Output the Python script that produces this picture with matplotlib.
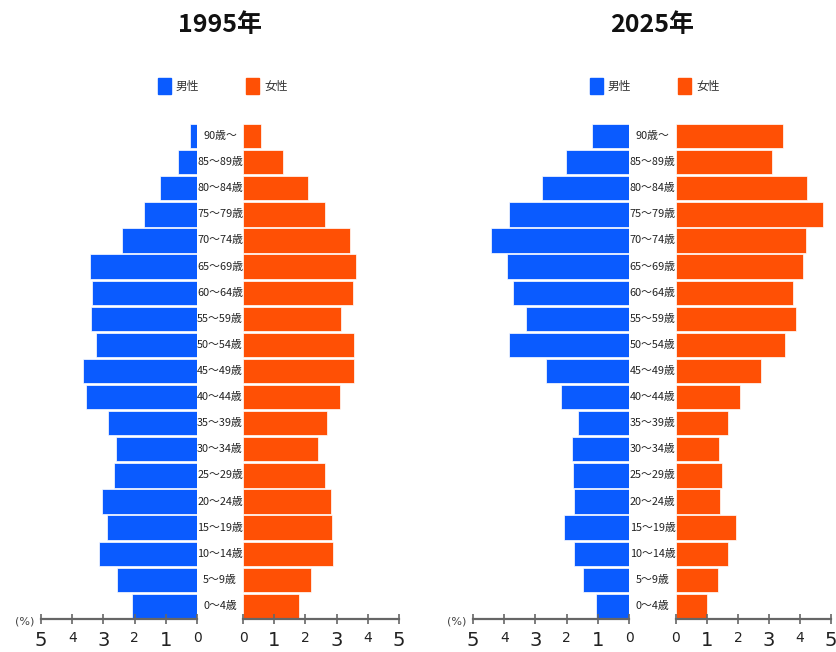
import matplotlib
matplotlib.use('Agg')
import matplotlib.pyplot as plt
from matplotlib.patches import Rectangle

plt.rcParams['font.family'] = ['Noto Sans CJK JP', 'DejaVu Sans']

ages = ['0～4歳', '5～9歳', '10～14歳', '15～19歳', '20～24歳', '25～29歳', '30～34歳',
        '35～39歳', '40～44歳', '45～49歳', '50～54歳', '55～59歳', '60～64歳',
        '65～69歳', '70～74歳', '75～79歳', '80～84歳', '85～89歳', '90歳～']

male_1995 = [2.07, 2.56, 3.14, 2.87, 3.04, 2.65, 2.59, 2.86, 3.56, 3.66,
             3.24, 3.39, 3.36, 3.42, 2.40, 1.70, 1.18, 0.60, 0.21]
female_1995 = [1.80, 2.18, 2.87, 2.86, 2.82, 2.64, 2.41, 2.68, 3.12, 3.56,
               3.56, 3.14, 3.54, 3.62, 3.43, 2.63, 2.07, 1.28, 0.58]
male_2025 = [1.05, 1.48, 1.75, 2.09, 1.77, 1.78, 1.83, 1.64, 2.19, 2.65,
             3.84, 3.31, 3.73, 3.90, 4.41, 3.85, 2.79, 2.03, 1.20]
female_2025 = [1.01, 1.37, 1.69, 1.92, 1.43, 1.48, 1.40, 1.68, 2.06, 2.73,
               3.50, 3.87, 3.77, 4.10, 4.18, 4.73, 4.24, 3.11, 3.44]

ticks = [0, 1, 2, 3, 4, 5]
blue = '#0A5BFF'
orange = '#FF5005'

W, H = 836, 652
fig = plt.figure(figsize=(W / 100, H / 100), dpi=100)


def fx(px):
    return px / W


def fy(py):
    return 1 - py / H


def style_axis(ax, invert):
    for s in ['top', 'left', 'right']:
        ax.spines[s].set_visible(False)
    ax.spines['bottom'].set_color('#666666')
    ax.spines['bottom'].set_linewidth(1.6)
    ax.set_xlim(0, 5)
    if invert:
        ax.invert_xaxis()
    ax.set_ylim(-0.5, 18.5)
    ax.set_yticks([])
    ax.set_xticks(ticks)
    ax.tick_params(axis='x', direction='inout', length=7, width=1.2,
                   color='#666666', pad=5)
    labels = ax.set_xticklabels([str(t) for t in ticks], family='DejaVu Sans',
                                color='#222222')
    for t, lab in zip(ticks, labels):
        lab.set_fontsize(14 if t % 2 == 1 else 10)


def pyramid(male, female, title, x_m0, x_m1, x_f0, x_f1):
    bottom, top = 619, 123
    axm = fig.add_axes([fx(x_m0), fy(bottom), fx(x_m1 - x_m0), fy(top) - fy(bottom)])
    axf = fig.add_axes([fx(x_f0), fy(bottom), fx(x_f1 - x_f0), fy(top) - fy(bottom)])
    y = list(range(len(ages)))
    axm.barh(y, male, height=0.93, color=blue, edgecolor='white', linewidth=0.5)
    axf.barh(y, female, height=0.93, color=orange, edgecolor='white', linewidth=0.5)
    style_axis(axm, True)
    style_axis(axf, False)
    cx = (x_m1 + x_f0) / 2
    # age labels between the two halves
    for i, a in enumerate(ages):
        yy = axm.transData.transform((0, i))[1]
        fig.text(fx(cx), yy / H, a, ha='center', va='center', fontsize=7.8,
                 color='#222222')
    fig.text(fx(x_m0 - 16), fy(622), '(%)', ha='center', va='center',
             fontsize=8, color='#444444', family='DejaVu Sans')
    mid = (x_m0 + x_f1) / 2
    fig.text(fx(mid), fy(25), title, ha='center', va='center', fontsize=18,
             fontweight='bold', color='#111111')
    # legend
    lx = mid - 62
    for dx, col, lab in [(0, blue, '男性'), (88, orange, '女性')]:
        fig.add_artist(Rectangle((fx(lx + dx), fy(94)), fx(13), fy(78) - fy(94),
                                 transform=fig.transFigure, color=col))
        fig.text(fx(lx + dx + 18), fy(86), lab, ha='left', va='center',
                 fontsize=8.5, color='#333333')


pyramid(male_1995, female_1995, '1995年', 41, 197, 243, 399)
pyramid(male_2025, female_2025, '2025年', 473, 629, 676, 831)

fig.savefig('out.png', dpi=100)
